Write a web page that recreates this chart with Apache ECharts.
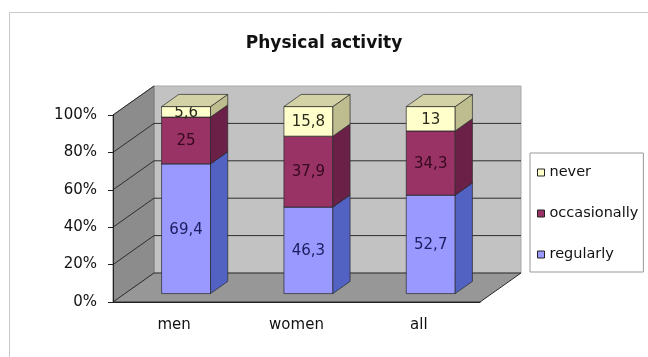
<!DOCTYPE html>
<html>
<head>
<meta charset="utf-8">
<script src="https://cdn.jsdelivr.net/npm/echarts@6/dist/echarts.min.js"></script>
<style>
  html, body { margin: 0; padding: 0; background: #ffffff; }
  #chart { width: 648px; height: 357px; }
</style>
</head>
<body>
<div id="chart"></div>
<script>
// Share of people by physical activity level (percent, stacked to 100)
const categories = ['men', 'women', 'all'];
const regularly = [69.4, 46.3, 52.7];
const occasionally = [25, 37.9, 34.3];
const never = [5.6, 15.8, 13];
const yTicks = [0, 20, 40, 60, 80, 100];
const legendOrder = ['never', 'occasionally', 'regularly'];

// 3D look: full depth offset of the plot box and the bars' depth slot
const DX = 41, DY = -29;
const F0 = 0.29, F1 = 0.71, BW = 0.4;
const FONT = '"DejaVu Sans", "Liberation Sans", sans-serif';

const faces = {
  regularly:    { front: '#9999ff', side: '#5162c2', top: '#7d7de0', text: '#1c1c60' },
  occasionally: { front: '#993366', side: '#6b2047', top: '#7d2a54', text: '#35081e' },
  never:        { front: '#ffffcc', side: '#bdbd90', top: '#d2d2a6', text: '#2a2a1c' }
};

function fmt(v) { return String(v).replace('.', ','); }

// build [category, base, top, value] rows for each stacked series
const stackRows = (function () {
  const out = { regularly: [], occasionally: [], never: [] };
  categories.forEach(function (c, i) {
    let b = 0;
    [['regularly', regularly], ['occasionally', occasionally], ['never', never]].forEach(function (p) {
      out[p[0]].push([i, b, b + p[1][i], p[1][i]]);
      b += p[1][i];
    });
  });
  return out;
})();

function boxRenderer(key) {
  const f = faces[key];
  return function (params, api) {
    const c = api.value(0), lo = api.value(1), hi = api.value(2), v = api.value(3);
    const pLo = api.coord([c, lo]);
    const pHi = api.coord([c, hi]);
    const w = api.size([1, 0])[0] * BW;
    const ox = DX * F0, oy = DY * F0;
    const dx = DX * (F1 - F0), dy = DY * (F1 - F0);
    const xl = pLo[0] - w / 2 + ox, xr = pLo[0] + w / 2 + ox;
    const yb = pLo[1] + oy, yt = pHi[1] + oy;
    const stroke = { stroke: '#2a2a2a', lineWidth: 0.7 };
    return {
      type: 'group',
      children: [
        { type: 'rect', shape: { x: xl, y: yt, width: w, height: yb - yt },
          style: Object.assign({ fill: f.front }, stroke) },
        { type: 'text', style: { text: fmt(v), x: (xl + xr) / 2, y: (yt + yb) / 2 + 1,
          align: 'center', verticalAlign: 'middle', font: '15px ' + FONT, fill: f.text } },
        { type: 'polygon', shape: { points: [[xr, yb], [xr + dx, yb + dy], [xr + dx, yt + dy], [xr, yt]] },
          style: Object.assign({ fill: f.side }, stroke) },
        { type: 'polygon', shape: { points: [[xl, yt], [xr, yt], [xr + dx, yt + dy], [xl + dx, yt + dy]] },
          style: Object.assign({ fill: f.top }, stroke) }
      ]
    };
  };
}

function wallsRenderer(params, api) {
  const cs = params.coordSys;
  const x0 = cs.x, x1 = cs.x + cs.width;
  const y0 = api.coord([0, 0])[1];
  const y100 = api.coord([0, 100])[1];
  const children = [
    // back wall
    { type: 'polygon', shape: { points: [[x0 + DX, y0 + DY], [x1 + DX, y0 + DY], [x1 + DX, y100 + DY], [x0 + DX, y100 + DY]] },
      style: { fill: '#c2c2c2', stroke: '#a8a8a8', lineWidth: 1 } },
    // left wall
    { type: 'polygon', shape: { points: [[x0, y0], [x0 + DX, y0 + DY], [x0 + DX, y100 + DY], [x0, y100]] },
      style: { fill: '#8c8c8c', stroke: '#777777', lineWidth: 1 } },
    // floor
    { type: 'polygon', shape: { points: [[x0, y0], [x1, y0], [x1 + DX, y0 + DY], [x0 + DX, y0 + DY]] },
      style: { fill: '#979797', stroke: '#2a2a2a', lineWidth: 1 } }
  ];
  yTicks.forEach(function (t) {
    if (t === 0) return;
    const y = api.coord([0, t])[1];
    if (t < 100) {
      children.push({ type: 'line', shape: { x1: x0 + DX, y1: y + DY, x2: x1 + DX, y2: y + DY },
        style: { stroke: '#2e2e2e', lineWidth: 1 } });
    }
    children.push({ type: 'line', shape: { x1: x0, y1: y, x2: x0 + DX, y2: y + DY },
      style: { stroke: '#2e2e2e', lineWidth: 1 } });
  });
  return { type: 'group', children: children };
}

const chart = echarts.init(document.getElementById('chart'));

function boxSeries(name, key) {
  return {
    name: name, type: 'custom', renderItem: boxRenderer(key), clip: false, z: 3,
    itemStyle: { color: faces[key].front, borderColor: '#222', borderWidth: 1 },
    encode: { x: 0, y: [1, 2] },
    data: stackRows[key]
  };
}

chart.setOption({
  animation: false,
  backgroundColor: '#ffffff',
  title: {
    text: 'Physical activity', left: 'center', top: 30,
    textStyle: { fontFamily: FONT, fontSize: 17, fontWeight: 'bold', color: '#111' }
  },
  graphic: [{
    type: 'rect', shape: { x: 9.5, y: 12.5, width: 700, height: 400 },
    style: { fill: 'none', stroke: '#c8c8c8', lineWidth: 1 }, silent: true
  }],
  legend: {
    data: legendOrder, orient: 'vertical', left: 530, top: 153,
    itemWidth: 7, itemHeight: 7, itemGap: 26, icon: 'rect',
    padding: [12, 5, 10, 7],
    borderColor: '#999', borderWidth: 1,
    itemStyle: { borderColor: '#222', borderWidth: 1 },
    textStyle: { fontFamily: FONT, fontSize: 14.5, lineHeight: 14, color: '#111' }
  },
  grid: { left: 113, right: 168, top: 115, bottom: 55 },
  xAxis: {
    type: 'category', data: categories, z: 10,
    axisLine: { lineStyle: { color: '#222', width: 1 } },
    axisTick: { length: 5, lineStyle: { color: '#222' } },
    axisLabel: { margin: 16, fontFamily: FONT, fontSize: 15, color: '#111' },
    splitLine: { show: false }
  },
  yAxis: {
    type: 'value', min: 0, max: 100, interval: 20, z: 10,
    axisLine: { show: true, lineStyle: { color: '#222', width: 1 } },
    axisTick: { show: true, length: 5, lineStyle: { color: '#222' } },
    axisLabel: { margin: 16, fontFamily: FONT, fontSize: 15, color: '#111', formatter: '{value}%' },
    splitLine: { show: false }
  },
  series: [
    { name: 'walls', type: 'custom', renderItem: wallsRenderer, clip: false, z: 1,
      silent: true, data: [[0, 0]], encode: { x: 0, y: 1 } },
    boxSeries('regularly', 'regularly'),
    boxSeries('occasionally', 'occasionally'),
    boxSeries('never', 'never')
  ]
});
</script>
</body>
</html>
